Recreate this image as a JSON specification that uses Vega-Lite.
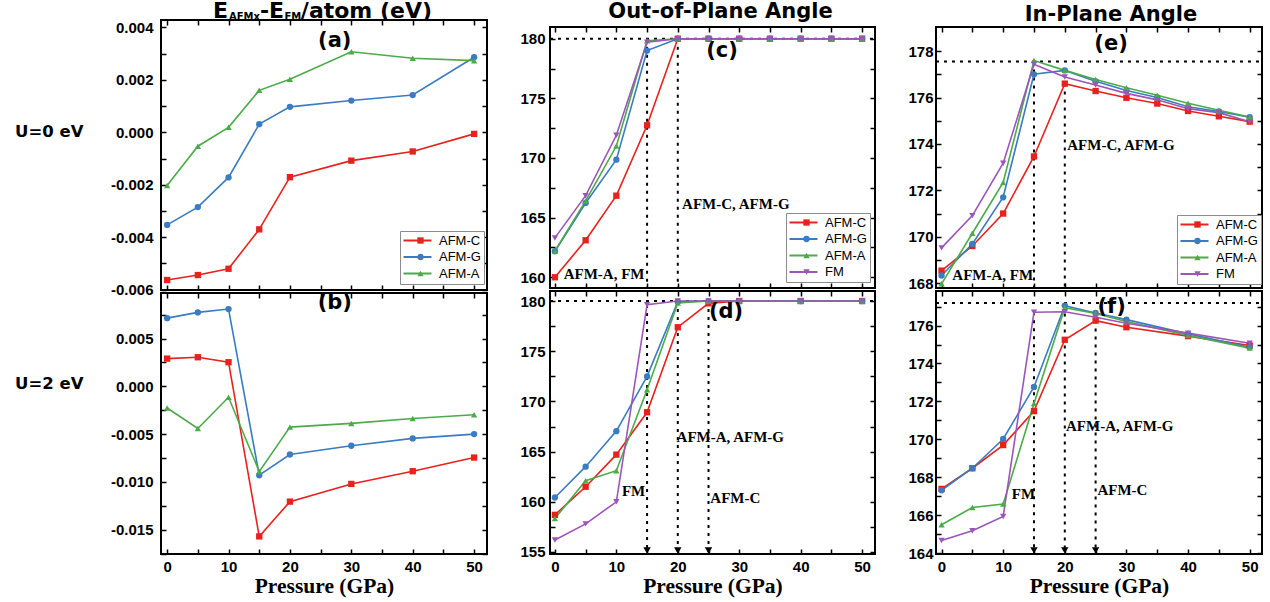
{
"$schema": "https://vega.github.io/schema/vega-lite/v6.json",
"padding": {"left": 13, "top": -1, "right": 4, "bottom": 2},
"background": "white",
"config": {
  "view": {"stroke": "black", "strokeWidth": 2},
  "axis": {"domain": false, "grid": false, "minExtent": 0, "tickColor": "black", "tickWidth": 1.5, "tickSize": -5, "labelColor": "black", "labelFont": "Liberation Sans", "labelFontWeight": "bold", "labelFontSize": 15, "labelFlush": false, "labelOverlap": false, "labelPadding": 10},
  "legend": {"labelFont": "Liberation Sans", "labelFontSize": 13, "labelColor": "black", "padding": 3, "rowPadding": 2.5, "labelOffset": 6},
  "text": {"color": "black"}
},
"datasets": {
  "a": [
    {"P":0,"v":-0.00563,"s":"AFM-C"},{"P":5,"v":-0.00544,"s":"AFM-C"},{"P":10,"v":-0.0052,"s":"AFM-C"},{"P":15,"v":-0.0037,"s":"AFM-C"},{"P":20,"v":-0.00171,"s":"AFM-C"},{"P":30,"v":-0.00108,"s":"AFM-C"},{"P":40,"v":-0.00073,"s":"AFM-C"},{"P":50,"v":-0.00006,"s":"AFM-C"},
    {"P":0,"v":-0.00353,"s":"AFM-G"},{"P":5,"v":-0.00285,"s":"AFM-G"},{"P":10,"v":-0.00172,"s":"AFM-G"},{"P":15,"v":0.00031,"s":"AFM-G"},{"P":20,"v":0.00097,"s":"AFM-G"},{"P":30,"v":0.00121,"s":"AFM-G"},{"P":40,"v":0.00142,"s":"AFM-G"},{"P":50,"v":0.00286,"s":"AFM-G"},
    {"P":0,"v":-0.00203,"s":"AFM-A"},{"P":5,"v":-0.00053,"s":"AFM-A"},{"P":10,"v":0.00019,"s":"AFM-A"},{"P":15,"v":0.0016,"s":"AFM-A"},{"P":20,"v":0.00202,"s":"AFM-A"},{"P":30,"v":0.00307,"s":"AFM-A"},{"P":40,"v":0.00282,"s":"AFM-A"},{"P":50,"v":0.00273,"s":"AFM-A"}
  ],
  "b": [
    {"P":0,"v":0.0029,"s":"AFM-C"},{"P":5,"v":0.00304,"s":"AFM-C"},{"P":10,"v":0.00252,"s":"AFM-C"},{"P":15,"v":-0.0157,"s":"AFM-C"},{"P":20,"v":-0.01206,"s":"AFM-C"},{"P":30,"v":-0.01021,"s":"AFM-C"},{"P":40,"v":-0.00888,"s":"AFM-C"},{"P":50,"v":-0.00745,"s":"AFM-C"},
    {"P":0,"v":0.00713,"s":"AFM-G"},{"P":5,"v":0.00773,"s":"AFM-G"},{"P":10,"v":0.00808,"s":"AFM-G"},{"P":15,"v":-0.0093,"s":"AFM-G"},{"P":20,"v":-0.00713,"s":"AFM-G"},{"P":30,"v":-0.00622,"s":"AFM-G"},{"P":40,"v":-0.00545,"s":"AFM-G"},{"P":50,"v":-0.005,"s":"AFM-G"},
    {"P":0,"v":-0.00227,"s":"AFM-A"},{"P":5,"v":-0.00441,"s":"AFM-A"},{"P":10,"v":-0.00115,"s":"AFM-A"},{"P":15,"v":-0.00892,"s":"AFM-A"},{"P":20,"v":-0.00427,"s":"AFM-A"},{"P":30,"v":-0.00388,"s":"AFM-A"},{"P":40,"v":-0.00336,"s":"AFM-A"},{"P":50,"v":-0.00297,"s":"AFM-A"}
  ],
  "c": [
    {"P":0,"v":160.0,"s":"AFM-C"},{"P":5,"v":163.1,"s":"AFM-C"},{"P":10,"v":166.84,"s":"AFM-C"},{"P":15,"v":172.74,"s":"AFM-C"},{"P":20,"v":180,"s":"AFM-C"},{"P":25,"v":180,"s":"AFM-C"},{"P":30,"v":180,"s":"AFM-C"},{"P":35,"v":180,"s":"AFM-C"},{"P":40,"v":180,"s":"AFM-C"},{"P":45,"v":180,"s":"AFM-C"},{"P":50,"v":180,"s":"AFM-C"},
    {"P":0,"v":162.18,"s":"AFM-G"},{"P":5,"v":166.23,"s":"AFM-G"},{"P":10,"v":169.86,"s":"AFM-G"},{"P":15,"v":179.0,"s":"AFM-G"},{"P":20,"v":180,"s":"AFM-G"},{"P":25,"v":180,"s":"AFM-G"},{"P":30,"v":180,"s":"AFM-G"},{"P":35,"v":180,"s":"AFM-G"},{"P":40,"v":180,"s":"AFM-G"},{"P":45,"v":180,"s":"AFM-G"},{"P":50,"v":180,"s":"AFM-G"},
    {"P":0,"v":162.2,"s":"AFM-A"},{"P":5,"v":166.4,"s":"AFM-A"},{"P":10,"v":171.0,"s":"AFM-A"},{"P":15,"v":179.83,"s":"AFM-A"},{"P":20,"v":180,"s":"AFM-A"},{"P":25,"v":180,"s":"AFM-A"},{"P":30,"v":180,"s":"AFM-A"},{"P":35,"v":180,"s":"AFM-A"},{"P":40,"v":180,"s":"AFM-A"},{"P":45,"v":180,"s":"AFM-A"},{"P":50,"v":180,"s":"AFM-A"},
    {"P":0,"v":163.3,"s":"FM"},{"P":5,"v":166.84,"s":"FM"},{"P":10,"v":171.9,"s":"FM"},{"P":15,"v":179.7,"s":"FM"},{"P":20,"v":180,"s":"FM"},{"P":25,"v":180,"s":"FM"},{"P":30,"v":180,"s":"FM"},{"P":35,"v":180,"s":"FM"},{"P":40,"v":180,"s":"FM"},{"P":45,"v":180,"s":"FM"},{"P":50,"v":180,"s":"FM"}
  ],
  "d": [
    {"P":0,"v":158.7,"s":"AFM-C"},{"P":5,"v":161.5,"s":"AFM-C"},{"P":10,"v":164.7,"s":"AFM-C"},{"P":15,"v":168.92,"s":"AFM-C"},{"P":20,"v":177.39,"s":"AFM-C"},{"P":25,"v":179.77,"s":"AFM-C"},{"P":30,"v":180,"s":"AFM-C"},{"P":40,"v":180,"s":"AFM-C"},{"P":50,"v":180,"s":"AFM-C"},
    {"P":0,"v":160.43,"s":"AFM-G"},{"P":5,"v":163.5,"s":"AFM-G"},{"P":10,"v":167.04,"s":"AFM-G"},{"P":15,"v":172.49,"s":"AFM-G"},{"P":20,"v":179.93,"s":"AFM-G"},{"P":25,"v":180,"s":"AFM-G"},{"P":30,"v":180,"s":"AFM-G"},{"P":40,"v":180,"s":"AFM-G"},{"P":50,"v":180,"s":"AFM-G"},
    {"P":0,"v":158.34,"s":"AFM-A"},{"P":5,"v":162.1,"s":"AFM-A"},{"P":10,"v":163.1,"s":"AFM-A"},{"P":15,"v":171.17,"s":"AFM-A"},{"P":20,"v":179.8,"s":"AFM-A"},{"P":25,"v":180,"s":"AFM-A"},{"P":30,"v":180,"s":"AFM-A"},{"P":40,"v":180,"s":"AFM-A"},{"P":50,"v":180,"s":"AFM-A"},
    {"P":0,"v":156.2,"s":"FM"},{"P":5,"v":157.8,"s":"FM"},{"P":10,"v":160.0,"s":"FM"},{"P":15,"v":179.64,"s":"FM"},{"P":20,"v":180,"s":"FM"},{"P":25,"v":180,"s":"FM"},{"P":30,"v":180,"s":"FM"},{"P":40,"v":180,"s":"FM"},{"P":50,"v":180,"s":"FM"}
  ],
  "e": [
    {"P":0,"v":168.54,"s":"AFM-C"},{"P":5,"v":169.6,"s":"AFM-C"},{"P":10,"v":171.0,"s":"AFM-C"},{"P":15,"v":173.46,"s":"AFM-C"},{"P":20,"v":176.6,"s":"AFM-C"},{"P":25,"v":176.28,"s":"AFM-C"},{"P":30,"v":175.99,"s":"AFM-C"},{"P":35,"v":175.74,"s":"AFM-C"},{"P":40,"v":175.42,"s":"AFM-C"},{"P":45,"v":175.19,"s":"AFM-C"},{"P":50,"v":174.96,"s":"AFM-C"},
    {"P":0,"v":168.33,"s":"AFM-G"},{"P":5,"v":169.69,"s":"AFM-G"},{"P":10,"v":171.7,"s":"AFM-G"},{"P":15,"v":177.0,"s":"AFM-G"},{"P":20,"v":177.17,"s":"AFM-G"},{"P":25,"v":176.7,"s":"AFM-G"},{"P":30,"v":176.3,"s":"AFM-G"},{"P":35,"v":176.0,"s":"AFM-G"},{"P":40,"v":175.6,"s":"AFM-G"},{"P":45,"v":175.4,"s":"AFM-G"},{"P":50,"v":175.15,"s":"AFM-G"},
    {"P":0,"v":167.97,"s":"AFM-A"},{"P":5,"v":170.15,"s":"AFM-A"},{"P":10,"v":172.34,"s":"AFM-A"},{"P":15,"v":177.6,"s":"AFM-A"},{"P":20,"v":177.17,"s":"AFM-A"},{"P":25,"v":176.78,"s":"AFM-A"},{"P":30,"v":176.42,"s":"AFM-A"},{"P":35,"v":176.1,"s":"AFM-A"},{"P":40,"v":175.75,"s":"AFM-A"},{"P":45,"v":175.45,"s":"AFM-A"},{"P":50,"v":175.16,"s":"AFM-A"},
    {"P":0,"v":169.52,"s":"FM"},{"P":5,"v":170.91,"s":"FM"},{"P":10,"v":173.17,"s":"FM"},{"P":15,"v":177.43,"s":"FM"},{"P":20,"v":176.88,"s":"FM"},{"P":25,"v":176.54,"s":"FM"},{"P":30,"v":176.18,"s":"FM"},{"P":35,"v":175.9,"s":"FM"},{"P":40,"v":175.52,"s":"FM"},{"P":45,"v":175.35,"s":"FM"},{"P":50,"v":174.96,"s":"FM"}
  ],
  "f": [
    {"P":0,"v":167.39,"s":"AFM-C"},{"P":5,"v":168.48,"s":"AFM-C"},{"P":10,"v":169.7,"s":"AFM-C"},{"P":15,"v":171.49,"s":"AFM-C"},{"P":20,"v":175.25,"s":"AFM-C"},{"P":25,"v":176.26,"s":"AFM-C"},{"P":30,"v":175.91,"s":"AFM-C"},{"P":40,"v":175.44,"s":"AFM-C"},{"P":50,"v":174.95,"s":"AFM-C"},
    {"P":0,"v":167.32,"s":"AFM-G"},{"P":5,"v":168.48,"s":"AFM-G"},{"P":10,"v":170.02,"s":"AFM-G"},{"P":15,"v":172.76,"s":"AFM-G"},{"P":20,"v":177.05,"s":"AFM-G"},{"P":25,"v":176.66,"s":"AFM-G"},{"P":30,"v":176.31,"s":"AFM-G"},{"P":40,"v":175.56,"s":"AFM-G"},{"P":50,"v":174.86,"s":"AFM-G"},
    {"P":0,"v":165.5,"s":"AFM-A"},{"P":5,"v":166.41,"s":"AFM-A"},{"P":10,"v":166.59,"s":"AFM-A"},{"P":15,"v":171.89,"s":"AFM-A"},{"P":20,"v":176.94,"s":"AFM-A"},{"P":25,"v":176.63,"s":"AFM-A"},{"P":30,"v":176.21,"s":"AFM-A"},{"P":40,"v":175.48,"s":"AFM-A"},{"P":50,"v":174.81,"s":"AFM-A"},
    {"P":0,"v":164.67,"s":"FM"},{"P":5,"v":165.19,"s":"FM"},{"P":10,"v":165.94,"s":"FM"},{"P":15,"v":176.7,"s":"FM"},{"P":20,"v":176.73,"s":"FM"},{"P":25,"v":176.44,"s":"FM"},{"P":30,"v":176.12,"s":"FM"},{"P":40,"v":175.6,"s":"FM"},{"P":50,"v":175.07,"s":"FM"}
  ]
},
"resolve": {"scale": {"stroke": "independent", "fill": "independent", "shape": "independent"}},
"spacing": 29,
"hconcat": [
 {"spacing": 3, "bounds": "flush",
  "resolve": {"scale": {"stroke": "independent", "fill": "independent", "shape": "independent"}},
  "vconcat": [
  {"width": 326, "height": 270,
   "resolve": {"axis": {"x": "independent", "y": "independent"}},
   "layer": [
    {"data": {"name": "a"}, "mark": {"type": "line", "strokeWidth": 1.6},
     "encoding": {
      "x": {"field": "P", "type": "quantitative", "scale": {"domain": [-1, 52.1], "nice": false, "zero": false}, "axis": {"orient": "bottom", "values": [0,5,10,15,20,25,30,35,40,45,50], "labels": false, "title": null}},
      "y": {"field": "v", "type": "quantitative", "scale": {"domain": [-0.00601, 0.00428], "nice": false, "zero": false}, "axis": {"orient": "left", "values": [-0.006,-0.005,-0.004,-0.003,-0.002,-0.001,0,0.001,0.002,0.003,0.004], "labelExpr": "round(datum.value*1000) % 2 === 0 ? replace(format(datum.value, '.3f'), '\u2212', '-') : ''", "labelPadding": 13, "title": "U=0 eV", "titleAngle": 0, "titleAlign": "right", "titleBaseline": "middle", "titleX": -78, "titleY": 111, "titleFont": "DejaVu Sans", "titleFontSize": 16.5, "titleFontWeight": "bold", "titleColor": "black"}},
      "stroke": {"field": "s", "type": "nominal", "sort": ["AFM-C","AFM-G","AFM-A","FM"], "scale": {"range": ["#e8211d","#3a7cc1","#4bab49","#9c55b8"]}, "legend": {"orient": "none", "legendX": 239, "legendY": 211, "title": null, "symbolType": "M-2.8,0H2.8", "symbolSize": 100, "symbolStrokeWidth": 2, "symbolOffset": 8, "labelOffset": 15, "strokeColor": "#8c8c8c", "fillColor": "white"}},
      "order": {"field": "P", "type": "quantitative"}
     }},
    {"data": {"name": "a"}, "mark": {"type": "point", "filled": true, "size": 40, "opacity": 1, "strokeWidth": 0},
     "encoding": {
      "x": {"field": "P", "type": "quantitative", "scale": {"domain": [-1, 52.1], "nice": false, "zero": false}, "axis": {"orient": "top", "values": [0,5,10,15,20,25,30,35,40,45,50], "labels": false, "title": null}},
      "y": {"field": "v", "type": "quantitative", "scale": {"domain": [-0.00601, 0.00428], "nice": false, "zero": false}, "axis": {"orient": "right", "values": [-0.006,-0.005,-0.004,-0.003,-0.002,-0.001,0,0.001,0.002,0.003,0.004], "labels": false, "title": null}},
      "fill": {"field": "s", "type": "nominal", "scale": {"domain": ["AFM-C","AFM-G","AFM-A"], "range": ["#e8211d","#3a7cc1","#4bab49"]}, "legend": {"orient": "none", "legendX": 239, "legendY": 211, "title": null, "symbolSize": 40, "symbolOffset": 11, "labelOpacity": 0, "labelExpr": "' '", "symbolStrokeWidth": 0}},
      "shape": {"field": "s", "type": "nominal", "scale": {"domain": ["AFM-C","AFM-G","AFM-A"], "range": ["square","circle","triangle-up"]}, "legend": {"orient": "none", "legendX": 239, "legendY": 211, "title": null, "symbolSize": 40, "symbolOffset": 11, "labelOpacity": 0, "labelExpr": "' '", "symbolStrokeWidth": 0}}
     }},
    {"data": {"values": [{"t":"E","P":7.47,"v":0.00499},{"t":"-E","P":15.11,"v":0.00499},{"t":"/atom (eV)","P":21.78,"v":0.00499}]},
     "mark": {"type": "text", "align": "left", "baseline": "top", "font": "DejaVu Sans", "fontWeight": "bold", "fontSize": 22},
     "encoding": {"x": {"field": "P", "type": "quantitative", "scale": {"domain": [-1, 52.1], "nice": false, "zero": false}, "axis": null}, "y": {"field": "v", "type": "quantitative", "scale": {"domain": [-0.00601, 0.00428], "nice": false, "zero": false}, "axis": null}, "text": {"field": "t"}}},
    {"data": {"values": [{"t":"AFMx","P":10.07,"v":0.00457},{"t":"FM","P":19.1,"v":0.00457}]},
     "mark": {"type": "text", "align": "left", "baseline": "top", "font": "DejaVu Sans", "fontWeight": "bold", "fontSize": 10},
     "encoding": {"x": {"field": "P", "type": "quantitative", "scale": {"domain": [-1, 52.1], "nice": false, "zero": false}, "axis": null}, "y": {"field": "v", "type": "quantitative", "scale": {"domain": [-0.00601, 0.00428], "nice": false, "zero": false}, "axis": null}, "text": {"field": "t"}}},
    {"data": {"values": [{"t":"(a)","P":27.3,"v":0.00347}]},
     "mark": {"type": "text", "align": "center", "baseline": "middle", "font": "DejaVu Sans", "fontWeight": "bold", "fontSize": 21},
     "encoding": {"x": {"field": "P", "type": "quantitative", "scale": {"domain": [-1, 52.1], "nice": false, "zero": false}, "axis": null}, "y": {"field": "v", "type": "quantitative", "scale": {"domain": [-0.00601, 0.00428], "nice": false, "zero": false}, "axis": null}, "text": {"field": "t"}}}
   ]},
  {"width": 326, "height": 261,
   "resolve": {"axis": {"x": "independent", "y": "independent"}},
   "layer": [
    {"data": {"name": "b"}, "mark": {"type": "line", "strokeWidth": 1.6},
     "encoding": {
      "x": {"field": "P", "type": "quantitative", "scale": {"domain": [-1, 52.1], "nice": false, "zero": false}, "axis": {"orient": "bottom", "values": [0,5,10,15,20,25,30,35,40,45,50], "labelExpr": "datum.value % 10 === 0 ? datum.label : ''", "title": "Pressure (GPa)", "titleFont": "Liberation Serif", "titleFontSize": 21.5, "titleFontWeight": "bold", "titleColor": "black", "titlePadding": 1}},
      "y": {"field": "v", "type": "quantitative", "scale": {"domain": [-0.01754, 0.00976], "nice": false, "zero": false}, "axis": {"orient": "left", "values": [-0.0175,-0.015,-0.0125,-0.01,-0.0075,-0.005,-0.0025,0,0.0025,0.005,0.0075], "labelExpr": "round(datum.value*1000) % 5 === 0 ? replace(format(datum.value, '.3f'), '\u2212', '-') : ''", "labelPadding": 13, "title": "U=2 eV", "titleAngle": 0, "titleAlign": "right", "titleBaseline": "middle", "titleX": -78, "titleY": 90, "titleFont": "DejaVu Sans", "titleFontSize": 16.5, "titleFontWeight": "bold", "titleColor": "black"}},
      "stroke": {"field": "s", "type": "nominal", "sort": ["AFM-C","AFM-G","AFM-A","FM"], "scale": {"range": ["#e8211d","#3a7cc1","#4bab49","#9c55b8"]}, "legend": null},
      "order": {"field": "P", "type": "quantitative"}
     }},
    {"data": {"name": "b"}, "mark": {"type": "point", "filled": true, "size": 40, "opacity": 1, "strokeWidth": 0},
     "encoding": {
      "x": {"field": "P", "type": "quantitative", "scale": {"domain": [-1, 52.1], "nice": false, "zero": false}, "axis": {"orient": "top", "values": [0,5,10,15,20,25,30,35,40,45,50], "labels": false, "title": null}},
      "y": {"field": "v", "type": "quantitative", "scale": {"domain": [-0.01754, 0.00976], "nice": false, "zero": false}, "axis": {"orient": "right", "values": [-0.0175,-0.015,-0.0125,-0.01,-0.0075,-0.005,-0.0025,0,0.0025,0.005,0.0075], "labels": false, "title": null}},
      "fill": {"field": "s", "type": "nominal", "scale": {"domain": ["AFM-C","AFM-G","AFM-A"], "range": ["#e8211d","#3a7cc1","#4bab49"]}, "legend": null},
      "shape": {"field": "s", "type": "nominal", "scale": {"domain": ["AFM-C","AFM-G","AFM-A"], "range": ["square","circle","triangle-up"]}, "legend": null}
     }},
    {"data": {"values": [{"t":"(b)","P":27.3,"v":0.00874}]},
     "mark": {"type": "text", "align": "center", "baseline": "middle", "font": "DejaVu Sans", "fontWeight": "bold", "fontSize": 21},
     "encoding": {"x": {"field": "P", "type": "quantitative", "scale": {"domain": [-1, 52.1], "nice": false, "zero": false}, "axis": null}, "y": {"field": "v", "type": "quantitative", "scale": {"domain": [-0.01754, 0.00976], "nice": false, "zero": false}, "axis": null}, "text": {"field": "t"}}}
   ]}
 ]},
 {"spacing": 3, "bounds": "flush",
  "resolve": {"scale": {"stroke": "independent", "fill": "independent", "shape": "independent"}},
  "vconcat": [
  {"width": 325, "height": 4, "view": {"stroke": null}, "data": {"values": []}, "mark": {"type": "point", "opacity": 0}},
  {"width": 325, "height": 261,
   "title": {"text": "Out-of-Plane Angle", "font": "DejaVu Sans", "fontSize": 21, "fontWeight": "bold", "color": "black", "anchor": "middle", "frame": "group", "offset": 4, "dx": 8},
   "resolve": {"axis": {"x": "independent", "y": "independent"}},
   "layer": [
    {"data": {"values": [{"P":-0.8,"P2":52.1,"v":180,"v2":180},{"P":15,"P2":15,"v":180,"v2":159.1},{"P":20,"P2":20,"v":180,"v2":159.1}]},
     "mark": {"type": "rule", "strokeDash": [3,5], "strokeWidth": 2, "color": "black"},
     "encoding": {"x": {"field": "P", "type": "quantitative", "scale": {"domain": [-0.8, 52.1], "nice": false, "zero": false}, "axis": null}, "x2": {"field": "P2"}, "y": {"field": "v", "type": "quantitative", "scale": {"domain": [159.1, 180.98], "nice": false, "zero": false}, "axis": null}, "y2": {"field": "v2"}}},
    {"data": {"name": "c"}, "mark": {"type": "line", "strokeWidth": 1.6},
     "encoding": {
      "x": {"field": "P", "type": "quantitative", "scale": {"domain": [-0.8, 52.1], "nice": false, "zero": false}, "axis": {"orient": "bottom", "values": [0,5,10,15,20,25,30,35,40,45,50], "labels": false, "title": null}},
      "y": {"field": "v", "type": "quantitative", "scale": {"domain": [159.1, 180.98], "nice": false, "zero": false}, "axis": {"orient": "left", "values": [160,162.5,165,167.5,170,172.5,175,177.5,180], "labelExpr": "datum.value % 5 === 0 ? datum.label : ''", "labelPadding": 10, "title": null}},
      "stroke": {"field": "s", "type": "nominal", "sort": ["AFM-C","AFM-G","AFM-A","FM"], "scale": {"range": ["#e8211d","#3a7cc1","#4bab49","#9c55b8"]}, "legend": {"orient": "none", "legendX": 236, "legendY": 186, "title": null, "symbolType": "M-2.8,0H2.8", "symbolSize": 100, "symbolStrokeWidth": 2, "symbolOffset": 8, "labelOffset": 15, "strokeColor": "#8c8c8c", "fillColor": "white"}},
      "order": {"field": "P", "type": "quantitative"}
     }},
    {"data": {"name": "c"}, "mark": {"type": "point", "filled": true, "size": 40, "opacity": 1, "strokeWidth": 0},
     "encoding": {
      "x": {"field": "P", "type": "quantitative", "scale": {"domain": [-0.8, 52.1], "nice": false, "zero": false}, "axis": {"orient": "top", "values": [0,5,10,15,20,25,30,35,40,45,50], "labels": false, "title": null}},
      "y": {"field": "v", "type": "quantitative", "scale": {"domain": [159.1, 180.98], "nice": false, "zero": false}, "axis": {"orient": "right", "values": [160,162.5,165,167.5,170,172.5,175,177.5,180], "labels": false, "title": null}},
      "fill": {"field": "s", "type": "nominal", "scale": {"domain": ["AFM-C","AFM-G","AFM-A","FM"], "range": ["#e8211d","#3a7cc1","#4bab49","#9c55b8"]}, "legend": {"orient": "none", "legendX": 236, "legendY": 186, "title": null, "symbolSize": 40, "symbolOffset": 11, "labelOpacity": 0, "labelExpr": "' '", "symbolStrokeWidth": 0}},
      "shape": {"field": "s", "type": "nominal", "scale": {"domain": ["AFM-C","AFM-G","AFM-A","FM"], "range": ["square","circle","triangle-up","triangle-down"]}, "legend": {"orient": "none", "legendX": 236, "legendY": 186, "title": null, "symbolSize": 40, "symbolOffset": 11, "labelOpacity": 0, "labelExpr": "' '", "symbolStrokeWidth": 0}}
     }},
    {"data": {"values": [{"t":"AFM-C, AFM-G","P":20.7,"v":166.1},{"t":"AFM-A, FM","P":1.43,"v":160.3}]},
     "mark": {"type": "text", "align": "left", "baseline": "middle", "font": "Liberation Serif", "fontWeight": "bold", "fontSize": 15},
     "encoding": {"x": {"field": "P", "type": "quantitative", "scale": {"domain": [-0.8, 52.1], "nice": false, "zero": false}, "axis": null}, "y": {"field": "v", "type": "quantitative", "scale": {"domain": [159.1, 180.98], "nice": false, "zero": false}, "axis": null}, "text": {"field": "t"}}},
    {"data": {"values": [{"t":"(c)","P":27.2,"v":178.94}]},
     "mark": {"type": "text", "align": "center", "baseline": "middle", "font": "DejaVu Sans", "fontWeight": "bold", "fontSize": 21},
     "encoding": {"x": {"field": "P", "type": "quantitative", "scale": {"domain": [-0.8, 52.1], "nice": false, "zero": false}, "axis": null}, "y": {"field": "v", "type": "quantitative", "scale": {"domain": [159.1, 180.98], "nice": false, "zero": false}, "axis": null}, "text": {"field": "t"}}}
   ]},
  {"width": 325, "height": 263,
   "resolve": {"axis": {"x": "independent", "y": "independent"}},
   "layer": [
    {"data": {"values": [{"P":-0.8,"P2":52.1,"v":180,"v2":180},{"P":15,"P2":15,"v":179.6,"v2":154.8},{"P":20,"P2":20,"v":180,"v2":154.8},{"P":25,"P2":25,"v":180,"v2":154.8}]},
     "mark": {"type": "rule", "strokeDash": [3,5], "strokeWidth": 2, "color": "black"},
     "encoding": {"x": {"field": "P", "type": "quantitative", "scale": {"domain": [-0.8, 52.1], "nice": false, "zero": false}, "axis": null}, "x2": {"field": "P2"}, "y": {"field": "v", "type": "quantitative", "scale": {"domain": [154.8, 181.0], "nice": false, "zero": false}, "axis": null}, "y2": {"field": "v2"}}},
    {"data": {"values": [{"P":15,"v":155.15},{"P":20,"v":155.15},{"P":25,"v":155.15}]},
     "mark": {"type": "point", "shape": "triangle-down", "filled": true, "size": 55, "color": "black", "opacity": 1},
     "encoding": {"x": {"field": "P", "type": "quantitative", "scale": {"domain": [-0.8, 52.1], "nice": false, "zero": false}, "axis": null}, "y": {"field": "v", "type": "quantitative", "scale": {"domain": [154.8, 181.0], "nice": false, "zero": false}, "axis": null}}},
    {"data": {"name": "d"}, "mark": {"type": "line", "strokeWidth": 1.6},
     "encoding": {
      "x": {"field": "P", "type": "quantitative", "scale": {"domain": [-0.8, 52.1], "nice": false, "zero": false}, "axis": {"orient": "bottom", "values": [0,5,10,15,20,25,30,35,40,45,50], "labelExpr": "datum.value % 10 === 0 ? datum.label : ''", "title": "Pressure (GPa)", "titleFont": "Liberation Serif", "titleFontSize": 21.5, "titleFontWeight": "bold", "titleColor": "black", "titlePadding": 1}},
      "y": {"field": "v", "type": "quantitative", "scale": {"domain": [154.8, 181.0], "nice": false, "zero": false}, "axis": {"orient": "left", "values": [155,157.5,160,162.5,165,167.5,170,172.5,175,177.5,180], "labelExpr": "datum.value % 5 === 0 ? datum.label : ''", "labelPadding": 10, "title": null}},
      "stroke": {"field": "s", "type": "nominal", "sort": ["AFM-C","AFM-G","AFM-A","FM"], "scale": {"range": ["#e8211d","#3a7cc1","#4bab49","#9c55b8"]}, "legend": null},
      "order": {"field": "P", "type": "quantitative"}
     }},
    {"data": {"name": "d"}, "mark": {"type": "point", "filled": true, "size": 40, "opacity": 1, "strokeWidth": 0},
     "encoding": {
      "x": {"field": "P", "type": "quantitative", "scale": {"domain": [-0.8, 52.1], "nice": false, "zero": false}, "axis": {"orient": "top", "values": [0,5,10,15,20,25,30,35,40,45,50], "labels": false, "title": null}},
      "y": {"field": "v", "type": "quantitative", "scale": {"domain": [154.8, 181.0], "nice": false, "zero": false}, "axis": {"orient": "right", "values": [155,157.5,160,162.5,165,167.5,170,172.5,175,177.5,180], "labels": false, "title": null}},
      "fill": {"field": "s", "type": "nominal", "scale": {"domain": ["AFM-C","AFM-G","AFM-A","FM"], "range": ["#e8211d","#3a7cc1","#4bab49","#9c55b8"]}, "legend": null},
      "shape": {"field": "s", "type": "nominal", "scale": {"domain": ["AFM-C","AFM-G","AFM-A","FM"], "range": ["square","circle","triangle-up","triangle-down"]}, "legend": null}
     }},
    {"data": {"values": [{"t":"AFM-A, AFM-G","P":19.8,"v":166.5},{"t":"FM","P":10.9,"v":161.1},{"t":"AFM-C","P":25.3,"v":160.4}]},
     "mark": {"type": "text", "align": "left", "baseline": "middle", "font": "Liberation Serif", "fontWeight": "bold", "fontSize": 15},
     "encoding": {"x": {"field": "P", "type": "quantitative", "scale": {"domain": [-0.8, 52.1], "nice": false, "zero": false}, "axis": null}, "y": {"field": "v", "type": "quantitative", "scale": {"domain": [154.8, 181.0], "nice": false, "zero": false}, "axis": null}, "text": {"field": "t"}}},
    {"data": {"values": [{"t":"(d)","P":27.85,"v":178.88}]},
     "mark": {"type": "text", "align": "center", "baseline": "middle", "font": "DejaVu Sans", "fontWeight": "bold", "fontSize": 21},
     "encoding": {"x": {"field": "P", "type": "quantitative", "scale": {"domain": [-0.8, 52.1], "nice": false, "zero": false}, "axis": null}, "y": {"field": "v", "type": "quantitative", "scale": {"domain": [154.8, 181.0], "nice": false, "zero": false}, "axis": null}, "text": {"field": "t"}}}
   ]}
 ]},
 {"spacing": 3, "bounds": "flush",
  "resolve": {"scale": {"stroke": "independent", "fill": "independent", "shape": "independent"}},
  "vconcat": [
  {"width": 326, "height": 4, "view": {"stroke": null}, "data": {"values": []}, "mark": {"type": "point", "opacity": 0}},
  {"width": 326, "height": 261,
   "title": {"text": "In-Plane Angle", "font": "DejaVu Sans", "fontSize": 21, "fontWeight": "bold", "color": "black", "anchor": "middle", "frame": "group", "offset": 1, "dx": 12},
   "resolve": {"axis": {"x": "independent", "y": "independent"}},
   "layer": [
    {"data": {"values": [{"P":-0.9,"P2":52.0,"v":177.55,"v2":177.55},{"P":15,"P2":15,"v":177.55,"v2":167.79},{"P":20,"P2":20,"v":176.6,"v2":167.79}]},
     "mark": {"type": "rule", "strokeDash": [3,5], "strokeWidth": 2, "color": "black"},
     "encoding": {"x": {"field": "P", "type": "quantitative", "scale": {"domain": [-0.9, 52.0], "nice": false, "zero": false}, "axis": null}, "x2": {"field": "P2"}, "y": {"field": "v", "type": "quantitative", "scale": {"domain": [167.79, 179.04], "nice": false, "zero": false}, "axis": null}, "y2": {"field": "v2"}}},
    {"data": {"name": "e"}, "mark": {"type": "line", "strokeWidth": 1.6},
     "encoding": {
      "x": {"field": "P", "type": "quantitative", "scale": {"domain": [-0.9, 52.0], "nice": false, "zero": false}, "axis": {"orient": "bottom", "values": [0,5,10,15,20,25,30,35,40,45,50], "labels": false, "title": null}},
      "y": {"field": "v", "type": "quantitative", "scale": {"domain": [167.79, 179.04], "nice": false, "zero": false}, "axis": {"orient": "left", "values": [168,169,170,171,172,173,174,175,176,177,178], "labelExpr": "datum.value % 2 === 0 ? datum.label : ''", "labelPadding": 8, "title": null}},
      "stroke": {"field": "s", "type": "nominal", "sort": ["AFM-C","AFM-G","AFM-A","FM"], "scale": {"range": ["#e8211d","#3a7cc1","#4bab49","#9c55b8"]}, "legend": {"orient": "none", "legendX": 241, "legendY": 188, "title": null, "symbolType": "M-2.8,0H2.8", "symbolSize": 100, "symbolStrokeWidth": 2, "symbolOffset": 8, "labelOffset": 15, "strokeColor": "#8c8c8c", "fillColor": "white"}},
      "order": {"field": "P", "type": "quantitative"}
     }},
    {"data": {"name": "e"}, "mark": {"type": "point", "filled": true, "size": 40, "opacity": 1, "strokeWidth": 0},
     "encoding": {
      "x": {"field": "P", "type": "quantitative", "scale": {"domain": [-0.9, 52.0], "nice": false, "zero": false}, "axis": {"orient": "top", "values": [0,5,10,15,20,25,30,35,40,45,50], "labels": false, "title": null}},
      "y": {"field": "v", "type": "quantitative", "scale": {"domain": [167.79, 179.04], "nice": false, "zero": false}, "axis": {"orient": "right", "values": [168,169,170,171,172,173,174,175,176,177,178], "labels": false, "title": null}},
      "fill": {"field": "s", "type": "nominal", "scale": {"domain": ["AFM-C","AFM-G","AFM-A","FM"], "range": ["#e8211d","#3a7cc1","#4bab49","#9c55b8"]}, "legend": {"orient": "none", "legendX": 241, "legendY": 188, "title": null, "symbolSize": 40, "symbolOffset": 11, "labelOpacity": 0, "labelExpr": "' '", "symbolStrokeWidth": 0}},
      "shape": {"field": "s", "type": "nominal", "scale": {"domain": ["AFM-C","AFM-G","AFM-A","FM"], "range": ["square","circle","triangle-up","triangle-down"]}, "legend": {"orient": "none", "legendX": 241, "legendY": 188, "title": null, "symbolSize": 40, "symbolOffset": 11, "labelOpacity": 0, "labelExpr": "' '", "symbolStrokeWidth": 0}}
     }},
    {"data": {"values": [{"t":"AFM-C, AFM-G","P":20.4,"v":173.95},{"t":"AFM-A, FM","P":1.75,"v":168.36}]},
     "mark": {"type": "text", "align": "left", "baseline": "middle", "font": "Liberation Serif", "fontWeight": "bold", "fontSize": 15},
     "encoding": {"x": {"field": "P", "type": "quantitative", "scale": {"domain": [-0.9, 52.0], "nice": false, "zero": false}, "axis": null}, "y": {"field": "v", "type": "quantitative", "scale": {"domain": [167.79, 179.04], "nice": false, "zero": false}, "axis": null}, "text": {"field": "t"}}},
    {"data": {"values": [{"t":"(e)","P":27.5,"v":178.29}]},
     "mark": {"type": "text", "align": "center", "baseline": "middle", "font": "DejaVu Sans", "fontWeight": "bold", "fontSize": 21},
     "encoding": {"x": {"field": "P", "type": "quantitative", "scale": {"domain": [-0.9, 52.0], "nice": false, "zero": false}, "axis": null}, "y": {"field": "v", "type": "quantitative", "scale": {"domain": [167.79, 179.04], "nice": false, "zero": false}, "axis": null}, "text": {"field": "t"}}}
   ]},
  {"width": 326, "height": 263,
   "resolve": {"axis": {"x": "independent", "y": "independent"}},
   "layer": [
    {"data": {"values": [{"P":-0.9,"P2":52.0,"v":177.19,"v2":177.19},{"P":15,"P2":15,"v":176.7,"v2":163.96},{"P":20,"P2":20,"v":177.05,"v2":163.96},{"P":25,"P2":25,"v":176.26,"v2":163.96}]},
     "mark": {"type": "rule", "strokeDash": [3,5], "strokeWidth": 2, "color": "black"},
     "encoding": {"x": {"field": "P", "type": "quantitative", "scale": {"domain": [-0.9, 52.0], "nice": false, "zero": false}, "axis": null}, "x2": {"field": "P2"}, "y": {"field": "v", "type": "quantitative", "scale": {"domain": [163.96, 177.82], "nice": false, "zero": false}, "axis": null}, "y2": {"field": "v2"}}},
    {"data": {"values": [{"P":15,"v":164.15},{"P":20,"v":164.15},{"P":25,"v":164.15}]},
     "mark": {"type": "point", "shape": "triangle-down", "filled": true, "size": 55, "color": "black", "opacity": 1},
     "encoding": {"x": {"field": "P", "type": "quantitative", "scale": {"domain": [-0.9, 52.0], "nice": false, "zero": false}, "axis": null}, "y": {"field": "v", "type": "quantitative", "scale": {"domain": [163.96, 177.82], "nice": false, "zero": false}, "axis": null}}},
    {"data": {"name": "f"}, "mark": {"type": "line", "strokeWidth": 1.6},
     "encoding": {
      "x": {"field": "P", "type": "quantitative", "scale": {"domain": [-0.9, 52.0], "nice": false, "zero": false}, "axis": {"orient": "bottom", "values": [0,5,10,15,20,25,30,35,40,45,50], "labelExpr": "datum.value % 10 === 0 ? datum.label : ''", "title": "Pressure (GPa)", "titleFont": "Liberation Serif", "titleFontSize": 21.5, "titleFontWeight": "bold", "titleColor": "black", "titlePadding": 1}},
      "y": {"field": "v", "type": "quantitative", "scale": {"domain": [163.96, 177.82], "nice": false, "zero": false}, "axis": {"orient": "left", "values": [164,165,166,167,168,169,170,171,172,173,174,175,176,177], "labelExpr": "datum.value % 2 === 0 ? datum.label : ''", "labelPadding": 8, "title": null}},
      "stroke": {"field": "s", "type": "nominal", "sort": ["AFM-C","AFM-G","AFM-A","FM"], "scale": {"range": ["#e8211d","#3a7cc1","#4bab49","#9c55b8"]}, "legend": null},
      "order": {"field": "P", "type": "quantitative"}
     }},
    {"data": {"name": "f"}, "mark": {"type": "point", "filled": true, "size": 40, "opacity": 1, "strokeWidth": 0},
     "encoding": {
      "x": {"field": "P", "type": "quantitative", "scale": {"domain": [-0.9, 52.0], "nice": false, "zero": false}, "axis": {"orient": "top", "values": [0,5,10,15,20,25,30,35,40,45,50], "labels": false, "title": null}},
      "y": {"field": "v", "type": "quantitative", "scale": {"domain": [163.96, 177.82], "nice": false, "zero": false}, "axis": {"orient": "right", "values": [164,165,166,167,168,169,170,171,172,173,174,175,176,177], "labels": false, "title": null}},
      "fill": {"field": "s", "type": "nominal", "scale": {"domain": ["AFM-C","AFM-G","AFM-A","FM"], "range": ["#e8211d","#3a7cc1","#4bab49","#9c55b8"]}, "legend": null},
      "shape": {"field": "s", "type": "nominal", "scale": {"domain": ["AFM-C","AFM-G","AFM-A","FM"], "range": ["square","circle","triangle-up","triangle-down"]}, "legend": null}
     }},
    {"data": {"values": [{"t":"AFM-A, AFM-G","P":20.2,"v":170.7},{"t":"FM","P":11.4,"v":167.11},{"t":"AFM-C","P":25.3,"v":167.32}]},
     "mark": {"type": "text", "align": "left", "baseline": "middle", "font": "Liberation Serif", "fontWeight": "bold", "fontSize": 15},
     "encoding": {"x": {"field": "P", "type": "quantitative", "scale": {"domain": [-0.9, 52.0], "nice": false, "zero": false}, "axis": null}, "y": {"field": "v", "type": "quantitative", "scale": {"domain": [163.96, 177.82], "nice": false, "zero": false}, "axis": null}, "text": {"field": "t"}}},
    {"data": {"values": [{"t":"(f)","P":27.6,"v":176.96}]},
     "mark": {"type": "text", "align": "center", "baseline": "middle", "font": "DejaVu Sans", "fontWeight": "bold", "fontSize": 21},
     "encoding": {"x": {"field": "P", "type": "quantitative", "scale": {"domain": [-0.9, 52.0], "nice": false, "zero": false}, "axis": null}, "y": {"field": "v", "type": "quantitative", "scale": {"domain": [163.96, 177.82], "nice": false, "zero": false}, "axis": null}, "text": {"field": "t"}}}
   ]}
 ]}
]
}
